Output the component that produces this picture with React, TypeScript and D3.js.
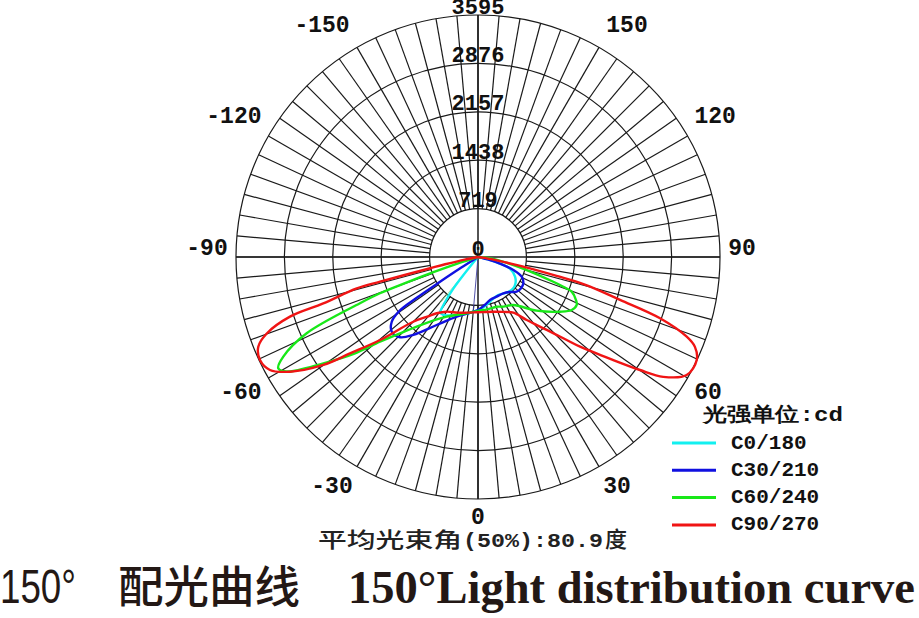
import React from 'react';
import * as d3 from 'd3';

// ---------- data ----------
const ringValues = [719, 1438, 2157, 2876, 3595];
const ringLabels = ['0', '719', '1438', '2157', '2876', '3595'];
const ringLabelValues = [0, 719, 1438, 2157, 2876, 3595];
const angleTicks = [-150, -120, -90, -60, -30, 0, 30, 60, 90, 120, 150];

// [angle in degrees from nadir (right positive), intensity in cd]
const c0_180: [number, number][] = [
  [-46, 0], [-40, 150], [-38, 600], [-36, 850], [-34, 1000], [-31, 1004], [-25, 960], [-20, 918],
  [-10, 850], [0, 790], [8, 740], [15, 688], [28, 640], [39, 680], [48, 701], [55, 680], [62, 623],
  [70, 504], [74, 300], [77, 150], [80, 0],
];
const c30_210: [number, number][] = [
  [-60, 0], [-57.5, 300], [-56.8, 700], [-56.3, 1100], [-55.5, 1420], [-53.1, 1602], [-49.1, 1695],
  [-44.2, 1663], [-39.7, 1504], [-31.3, 1182], [-19.6, 941], [-10, 850], [0, 787], [8, 720],
  [15.6, 663], [25, 650], [34.9, 658], [42, 700], [48.1, 772], [54, 790], [59.9, 778], [65.7, 712],
  [69.8, 559], [73, 360], [76, 184], [80, 0],
];
const c60_240: [number, number][] = [
  [-76, 0], [-72.5, 300], [-71.2, 700], [-70.4, 1100], [-69.7, 1553], [-68.6, 1883], [-66, 2786],
  [-62.9, 3249], [-60.9, 3396], [-59.1, 3313], [-55.5, 2788], [-52, 2330], [-49.2, 1924],
  [-45.6, 1620], [-39.2, 1285], [-27.7, 1001], [-11.4, 853], [0, 800], [10, 790], [20.6, 789],
  [27, 828], [36.3, 885], [47.5, 1180], [56.3, 1464], [60.5, 1600], [64.1, 1630], [66.3, 1590],
  [69.7, 1484], [70.8, 1342], [71.8, 1178], [75, 749], [80, 350], [84, 150], [88, 0],
];
const c90_270: [number, number][] = [
  [-84, 0], [-79, 200], [-77.5, 500], [-76.8, 730], [-75.9, 1500], [-75.5, 1860], [-73.3, 2400],
  [-72.4, 2930], [-70.1, 3337], [-67.8, 3525], [-64.7, 3582], [-61.5, 3517], [-58.6, 3271],
  [-55.1, 2803], [-53, 2380], [-49.7, 1906], [-45, 1360], [-40, 1150], [-36.3, 1037], [-29.8, 936],
  [-20, 880], [-11.5, 844], [0, 820], [15.6, 844], [25, 900], [32.4, 980], [37.7, 1183],
  [43.3, 1489], [46.9, 1805], [48.7, 2018], [52.7, 2526], [55.1, 2934], [57.1, 3277], [60.5, 3561],
  [64.8, 3591], [67.5, 3488], [69.1, 3319], [71.4, 2853], [73.2, 2204], [75.5, 1650], [76.5, 1200],
  [77.7, 790], [79, 400], [82, 100], [85, 0],
];
const faintRays: [number, number][] = [[-5, 820], [-39.6, 890]];

const seriesNames = ['C0/180', 'C30/210', 'C60/240', 'C90/270'];
const seriesData = [c0_180, c30_210, c60_240, c90_270];
const seriesColors = ['#12f0f0', '#1010e0', '#18e818', '#f01414'];
const faintColors = ['#4040a0', '#9ae89a'];

const legendTitle = '光强单位:cd';
const beamLabel = ['平均光束角', '(50%):80.9', '度'];
const titleParts = ['150°', '配光曲线', '150°Light distribution curve'];

// ---------- layout ----------
const W = 919;
const H = 618;
const cx = 478;
const cy = 257;
const R = 242;
const MONO = "'Liberation Mono', 'DejaVu Sans Mono', monospace";
const CJK = "'Noto Sans CJK SC', sans-serif";
// label placement tweaks (px) keyed by |angle|
const labelDX: Record<number, number> = { 0: 0, 30: 5, 60: -2, 90: -4, 120: 5, 150: 15 };
const labelDY: Record<number, number> = { 0: -7, 30: -2, 60: 2, 90: -8, 120: -6, 150: 1 };

export default function App() {
  const rScale = d3.scaleLinear().domain([0, 3595]).range([0, R]);
  const toRad = (deg: number) => Math.PI - (deg * Math.PI) / 180;
  const line = d3
    .lineRadial<[number, number]>()
    .angle((d) => toRad(d[0]))
    .radius((d) => rScale(d[1]))
    .curve(d3.curveCatmullRom.alpha(0.5));

  const spokes = d3.range(0, 360, 5);
  const rInner = rScale(ringValues[0]);
  const labelR = 268;

  return (
    <svg width={W} height={H} style={{ position: 'absolute', left: 0, top: 0, background: '#fff' }}>
      <rect x={0} y={0} width={W} height={H} fill="#fff" />
      <g transform={`translate(${cx},${cy})`} stroke="#1a1a1a" strokeWidth={1.2} fill="none">
        {ringValues.map((v) => (
          <circle key={v} r={rScale(v)} />
        ))}
        {spokes.map((a) => {
          const t = (a * Math.PI) / 180;
          return (
            <line key={a} x1={rInner * Math.sin(t)} y1={rInner * Math.cos(t)} x2={R * Math.sin(t)} y2={R * Math.cos(t)} />
          );
        })}
        <line x1={0} y1={-R} x2={0} y2={R} strokeWidth={1.5} />
        <line x1={-R} y1={0} x2={R} y2={0} strokeWidth={1.3} />
      </g>

      {/* ring value labels */}
      {ringLabelValues.map((v, i) => (
        <text key={v} x={cx} y={cy - rScale(v) - 7} textAnchor="middle" dominantBaseline="central"
          fontFamily={MONO} fontWeight="bold" fontSize={22} fill="#111">
          {ringLabels[i]}
        </text>
      ))}

      {/* curves */}
      <g transform={`translate(${cx},${cy})`} fill="none">
        {faintRays.map((d, i) => (
          <path key={'f' + i} d={line([[d[0], 0], d]) || ''} stroke={faintColors[i]} strokeWidth={0.9} />
        ))}
        {seriesData.map((s, i) => (
          <path key={i} d={line(s) || ''} stroke={seriesColors[i]} strokeWidth={2.4} strokeLinejoin="round" />
        ))}
      </g>

      {/* angle labels */}
      {angleTicks.map((a) => {
        const t = (a * Math.PI) / 180;
        const k = Math.abs(a);
        const sgn = a < 0 ? -1 : 1;
        const x = cx + labelR * Math.sin(t) + sgn * (labelDX[k] || 0) - (a < 0 ? 7 : 0);
        const y = cy + labelR * Math.cos(t) + (labelDY[k] || 0);
        return (
          <text key={a} x={x} y={y} textAnchor="middle" dominantBaseline="central"
            fontFamily={MONO} fontWeight="bold" fontSize={23} fill="#111">
            {String(a)}
          </text>
        );
      })}

      {/* legend */}
      <text x={703} y={421} fontFamily={MONO} fontWeight="bold" fontSize={20} fill="#111" textLength={140} lengthAdjust="spacingAndGlyphs">
        {legendTitle}
      </text>
      {seriesNames.map((n, i) => {
        const y = 443 + i * 27.3;
        return (
          <g key={n}>
            <line x1={672} x2={716} y1={y} y2={y} stroke={seriesColors[i]} strokeWidth={3} />
            <text x={731} y={y} dominantBaseline="central" fontFamily={MONO} fontWeight="bold" fontSize={21} fill="#111">
              {n}
            </text>
          </g>
        );
      })}

      {/* beam angle note */}
      <text x={318} y={547} fontFamily={CJK} fontWeight={500} fontSize={21} fill="#222" textLength={144} lengthAdjust="spacingAndGlyphs">{beamLabel[0]}</text>
      <text x={463} y={547} fontFamily={MONO} fontWeight="bold" fontSize={21} fill="#222" textLength={140} lengthAdjust="spacingAndGlyphs">{beamLabel[1]}</text>
      <text x={605} y={547} fontFamily={CJK} fontWeight={500} fontSize={22} fill="#222">{beamLabel[2]}</text>

      {/* title */}
      <text x={0} y={603} fontFamily="'Liberation Sans Narrow', 'Liberation Sans', sans-serif" fontSize={48} fill="#231815" textLength={76} lengthAdjust="spacingAndGlyphs">{titleParts[0]}</text>
      <text x={118} y={603} fontFamily={CJK} fontWeight={500} fontSize={44} fill="#231815" textLength={182} lengthAdjust="spacingAndGlyphs">{titleParts[1]}</text>
      <text x={348} y={603} fontFamily="'Liberation Serif', serif" fontWeight="bold" fontSize={47} fill="#231815" textLength={567} lengthAdjust="spacingAndGlyphs">{titleParts[2]}</text>
    </svg>
  );
}
